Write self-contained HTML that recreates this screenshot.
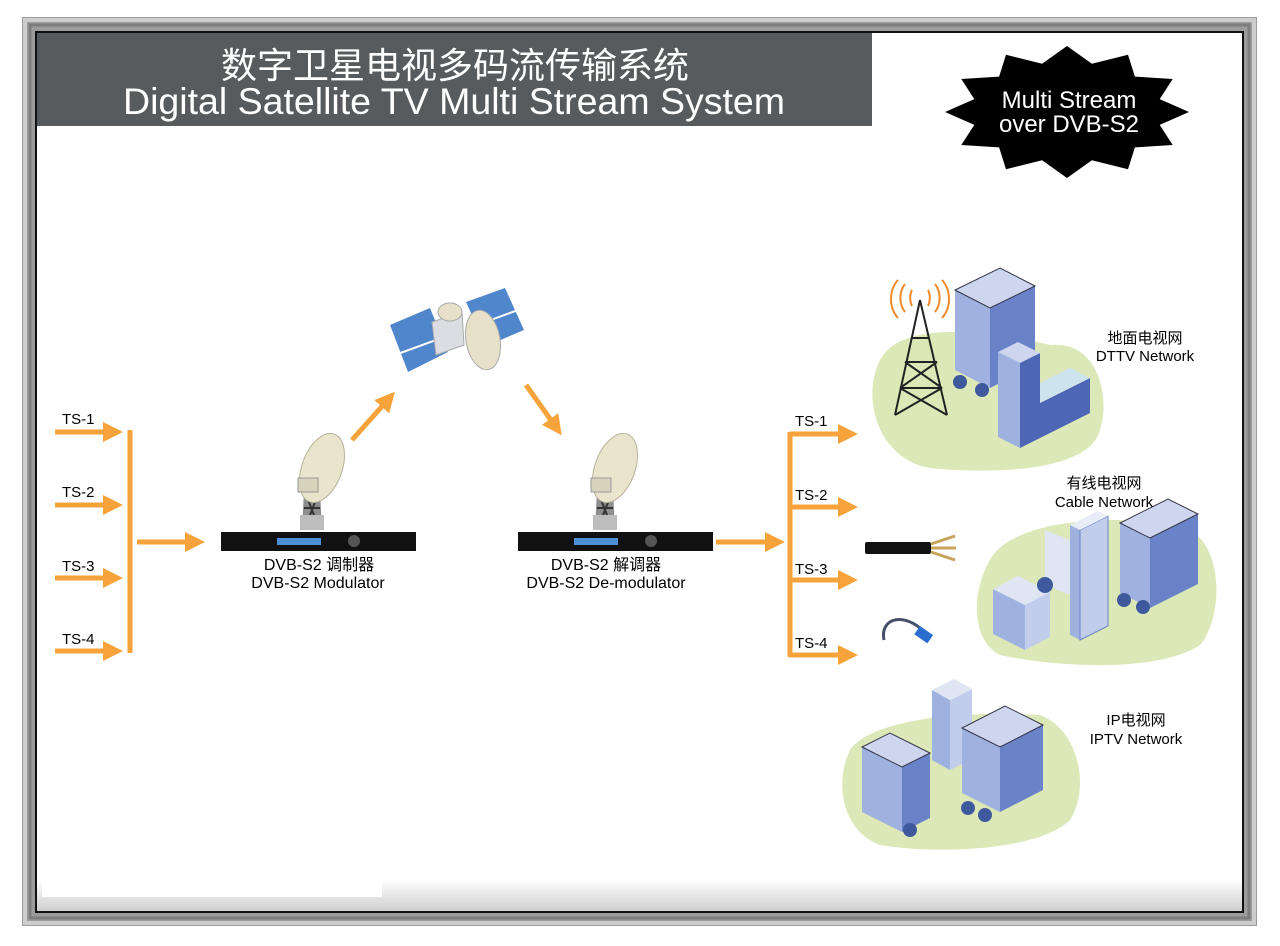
<!DOCTYPE html>
<html><head><meta charset="utf-8"><style>
html,body{margin:0;padding:0;background:#fff;}
svg{display:block;}
text{font-family:"Liberation Sans","Noto Sans CJK SC",sans-serif;}
</style></head><body>
<svg width="1280" height="946" viewBox="0 0 1280 946" xmlns="http://www.w3.org/2000/svg">
<defs>
<linearGradient id="bot" x1="0" y1="0" x2="0" y2="1"><stop offset="0" stop-color="#fff"/><stop offset="1" stop-color="#cfcfcf"/></linearGradient>
<marker id="ah" markerWidth="4" markerHeight="4" refX="1" refY="2" orient="auto" markerUnits="strokeWidth"><path d="M0,0 L4,2 L0,4 z" fill="#f5a33a"/></marker>
</defs>
<rect x="0" y="0" width="1280" height="946" fill="#fff"/>
<rect x="22" y="17" width="1235" height="909" fill="#9c9c9c"/>
<rect x="25" y="20" width="1229" height="903" fill="none" stroke="#cdcdcd" stroke-width="4"/>
<rect x="30" y="25" width="1219" height="893" fill="none" stroke="#7d7d7d" stroke-width="3"/>
<rect x="36" y="32" width="1207" height="880" fill="#fff" stroke="#111" stroke-width="2"/>
<rect x="37" y="880" width="1205" height="31" fill="url(#bot)"/>
<rect x="42" y="880" width="340" height="17" fill="#fff"/>
<rect x="37" y="33" width="835" height="93" fill="#585b5d"/>
<text x="455" y="78" font-size="36" fill="#fff" text-anchor="middle">数字卫星电视多码流传输系统</text>
<text x="454" y="114" font-size="37.5" fill="#fff" text-anchor="middle">Digital Satellite TV Multi Stream System</text>
<polygon fill="#000" points="1189,112 1159.7,124.9 1172.7,145 1134.9,147.4 1128,169.2 1091.9,160.3 1067,178 1042.1,160.3 1006,169.2 999.1,147.4 961.3,145 974.3,124.9 945,112 974.3,99.1 961.3,79 999.1,76.6 1006,54.8 1042.1,63.7 1067,46 1091.9,63.7 1128,54.8 1134.9,76.6 1172.7,79 1159.7,99.1"/>
<text x="1069" y="108" font-size="24" fill="#fff" text-anchor="middle">Multi Stream</text>
<text x="1069" y="132" font-size="24" fill="#fff" text-anchor="middle">over DVB-S2</text>

<g stroke="#f5a33a" stroke-width="5" fill="none">
<line x1="55" y1="432" x2="108" y2="432" marker-end="url(#ah)"/>
<line x1="55" y1="505" x2="108" y2="505" marker-end="url(#ah)"/>
<line x1="55" y1="578" x2="108" y2="578" marker-end="url(#ah)"/>
<line x1="55" y1="651" x2="108" y2="651" marker-end="url(#ah)"/>
<line x1="130" y1="430" x2="130" y2="653"/>
<line x1="137" y1="542" x2="190" y2="542" marker-end="url(#ah)"/>
<line x1="716" y1="542" x2="770" y2="542" marker-end="url(#ah)"/>
<line x1="790" y1="432" x2="790" y2="657"/>
<line x1="790" y1="434" x2="843" y2="434" marker-end="url(#ah)"/>
<line x1="790" y1="507" x2="843" y2="507" marker-end="url(#ah)"/>
<line x1="790" y1="580" x2="843" y2="580" marker-end="url(#ah)"/>
<line x1="790" y1="655" x2="843" y2="655" marker-end="url(#ah)"/>
<line x1="352" y1="440" x2="385" y2="403" marker-end="url(#ah)"/>
<line x1="526" y1="385" x2="553" y2="423" marker-end="url(#ah)"/>
</g>
<g font-size="15" fill="#000">
<text x="62" y="424">TS-1</text><text x="62" y="497">TS-2</text><text x="62" y="571">TS-3</text><text x="62" y="644">TS-4</text>
<text x="795" y="426">TS-1</text><text x="795" y="500">TS-2</text><text x="795" y="574">TS-3</text><text x="795" y="648">TS-4</text>
</g>

<g id="dish">
<path d="M302,530 L322,530 L320,490 L304,490 Z" fill="#8e8e8e"/>
<path d="M305,492 L319,528 M319,492 L305,528 M304,508 L320,508" stroke="#333" stroke-width="2"/>
<rect x="300" y="515" width="24" height="15" fill="#bdbdbd"/>
<ellipse cx="322" cy="468" rx="20" ry="36" transform="rotate(20 322 468)" fill="#e9e4cc" stroke="#b7b19a"/>
<rect x="298" y="478" width="20" height="14" fill="#d8d3bd" stroke="#999"/>
</g>
<use href="#dish" transform="translate(293,0)"/>
<rect x="221" y="532" width="195" height="19" fill="#111"/>
<rect x="277" y="538" width="44" height="7" fill="#4d8fd6"/>
<circle cx="354" cy="541" r="6" fill="#555"/>
<rect x="518" y="532" width="195" height="19" fill="#111"/>
<rect x="574" y="538" width="44" height="7" fill="#4d8fd6"/>
<circle cx="651" cy="541" r="6" fill="#555"/>
<g font-size="16" fill="#000" text-anchor="middle">
<text x="319" y="570">DVB-S2 调制器</text><text x="318" y="588">DVB-S2 Modulator</text>
<text x="606" y="570">DVB-S2 解调器</text><text x="606" y="588">DVB-S2 De-modulator</text>
</g>

<polygon points="390,325 430,308 448,352 408,372" fill="#4f86cc"/>
<polygon points="466,302 505,288 524,330 486,346" fill="#4f86cc"/>
<line x1="395" y1="355" x2="518" y2="310" stroke="#fff" stroke-width="2"/>
<polygon points="432,322 462,312 464,345 436,355" fill="#dcdde2" stroke="#aaa"/>
<ellipse cx="450" cy="312" rx="12" ry="9" fill="#e6e1c8" stroke="#aaa"/>
<ellipse cx="483" cy="340" rx="17" ry="30" transform="rotate(-10 483 340)" fill="#e6e1c8" stroke="#aaa"/>

<path d="M880,360 C900,320 990,330 1050,345 C1100,340 1110,400 1100,430 C1090,470 1000,475 930,468 C880,460 860,400 880,360 Z" fill="#dce8b8"/>
<path d="M990,560 C1010,520 1120,510 1190,530 C1225,550 1222,620 1200,645 C1160,672 1060,668 1000,655 C970,640 972,590 990,560 Z" fill="#dce8b8"/>
<path d="M850,750 C870,720 960,710 1040,715 C1080,730 1090,790 1070,820 C1040,850 940,855 880,845 C840,830 835,780 850,750 Z" fill="#dce8b8"/>

<g stroke="#222" stroke-width="2" fill="none">
<path d="M920,300 L895,415 M920,300 L947,415 M905,362 L937,362 M900,388 L942,388 M911,338 L929,338 M895,415 L942,388 M947,415 L900,388 M900,388 L937,362 M942,388 L905,362"/>
</g>
<g stroke="#f08a2a" stroke-width="2" fill="none">
<path d="M912,306 a10,14 0 0 1 0,-16 M928,306 a10,14 0 0 0 0,-16 M905,312 a16,20 0 0 1 0,-28 M935,312 a16,20 0 0 0 0,-28 M898,318 a22,26 0 0 1 0,-38 M942,318 a22,26 0 0 0 0,-38"/>
</g>
<g>
<polygon points="955,370 990,388 990,308 955,290" fill="#9fb1de"/>
<polygon points="990,388 1035,366 1035,286 990,308" fill="#6a82c8"/>
<polygon points="955,290 990,308 1035,286 1000,268" fill="#cdd6ee" stroke="#334" stroke-width="1"/>
<polygon points="998,437 1020,448 1020,363 998,352" fill="#9fb1de"/>
<polygon points="1020,448 1040,438 1040,353 1020,363" fill="#4d67b5"/>
<polygon points="998,352 1020,363 1040,353 1018,342" fill="#cdd6ee"/>
<polygon points="1040,438 1090,413 1090,378 1040,403" fill="#4d67b5"/>
<polygon points="1040,403 1090,378 1070,368 1040,383" fill="#cde3ee"/>
<circle cx="960" cy="382" r="7" fill="#3e5a9c"/><circle cx="982" cy="390" r="7" fill="#3e5a9c"/>
<text x="1145" y="343" font-size="15" text-anchor="middle">地面电视网</text>
<text x="1145" y="361" font-size="15" text-anchor="middle">DTTV Network</text>
<polygon points="1120,593 1150,608 1150,538 1120,523" fill="#9fb1de"/>
<polygon points="1150,608 1198,584 1198,514 1150,538" fill="#6a82c8"/>
<polygon points="1120,523 1150,538 1198,514 1168,499" fill="#cdd6ee" stroke="#334"/>
<polygon points="1045,585 1070,595 1070,540 1045,530" fill="#dfe5f3"/>
<polygon points="1070,595 1085,588 1085,533 1070,540" fill="#6a82c8"/>
<polygon points="1070,635 1080,640 1080,530 1070,525" fill="#9fb1de"/>
<polygon points="1080,640 1108,626 1108,516 1080,530" fill="#c1cdea" stroke="#6a82c8"/>
<polygon points="1070,525 1080,530 1108,516 1098,511" fill="#e8ecf6"/>
<polygon points="993,634 1025,650 1025,605 993,589" fill="#9fb1de"/>
<polygon points="1025,650 1050,637 1050,592 1025,605" fill="#c1cdea"/>
<polygon points="993,589 1025,605 1050,592 1018,576" fill="#dfe5f3"/>
<circle cx="1045" cy="585" r="8" fill="#3e5a9c"/>
<circle cx="1124" cy="600" r="7" fill="#3e5a9c"/><circle cx="1143" cy="607" r="7" fill="#3e5a9c"/>
<text x="1104" y="488" font-size="15" text-anchor="middle">有线电视网</text>
<text x="1104" y="507" font-size="15" text-anchor="middle">Cable Network</text>
<polygon points="932,760 950,770 950,700 932,690" fill="#9fb1de"/>
<polygon points="950,770 972,759 972,689 950,700" fill="#c1cdea"/>
<polygon points="932,690 950,700 972,689 954,679" fill="#dfe5f3"/>
<polygon points="862,812 902,832 902,767 862,747" fill="#9fb1de"/>
<polygon points="902,832 930,818 930,753 902,767" fill="#6a82c8"/>
<polygon points="862,747 902,767 930,753 890,733" fill="#cdd6ee" stroke="#334"/>
<polygon points="962,793 1000,812 1000,747 962,728" fill="#9fb1de"/>
<polygon points="1000,812 1043,790 1043,725 1000,747" fill="#6a82c8"/>
<polygon points="962,728 1000,747 1043,725 1005,706" fill="#cdd6ee" stroke="#334"/>
<circle cx="910" cy="830" r="7" fill="#3e5a9c"/><circle cx="968" cy="808" r="7" fill="#3e5a9c"/><circle cx="985" cy="815" r="7" fill="#3e5a9c"/>
<text x="1136" y="725" font-size="15" text-anchor="middle">IP电视网</text>
<text x="1136" y="744" font-size="15" text-anchor="middle">IPTV Network</text>
</g>
<rect x="865" y="542" width="66" height="12" rx="2" fill="#111"/>
<path d="M931,544 L955,536 M931,548 L956,548 M931,552 L955,560" stroke="#c9a35a" stroke-width="3"/>
<path d="M884,640 C880,620 900,612 920,628" stroke="#46506a" stroke-width="3" fill="none"/>
<rect x="920" y="626" width="16" height="10" transform="rotate(35 920 626)" fill="#2a6fd0"/>
</svg>
</body></html>
